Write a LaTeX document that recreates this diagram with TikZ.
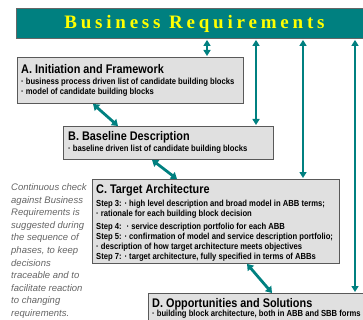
\documentclass[tikz,border=0pt]{standalone}
\usepackage{fontspec}
\setmainfont{Liberation Sans}
\newfontfamily\bannerfont[LetterSpace=20]{Liberation Serif}
\newfontfamily\boxfont[FakeStretch=0.87]{Liberation Sans}
\usetikzlibrary{arrows.meta}
\definecolor{brteal}{RGB}{0,128,128}
\definecolor{bryellow}{RGB}{255,255,0}
\definecolor{boxgray}{RGB}{224,224,224}
\definecolor{notegray}{RGB}{100,100,100}

\tikzset{
  phase/.style={draw=black!65, line width=0.9pt, fill=boxgray, anchor=north west, inner sep=0pt},
  ptitle/.style={anchor=base west, inner sep=0pt, font=\boxfont\bfseries\fontsize{12.5}{14}\selectfont},
  pline/.style={anchor=base west, inner sep=0pt, font=\boxfont\bfseries\fontsize{8.8}{10}\selectfont},
  check/.style={brteal, line width=1.6pt, {Triangle[width=7pt,length=6pt]}-{Triangle[width=7pt,length=6pt]}, shorten <=1pt, shorten >=1pt},
  flow/.style={brteal, line width=2.8pt, {Triangle[width=8pt,length=6pt]}-{Triangle[width=8pt,length=6pt]}},
}

\begin{document}
\begin{tikzpicture}[x=1pt,y=-1pt]
  \useasboundingbox (0,0) rectangle (363,320);

  % banner
  \node[draw=black!60, line width=0.9pt, fill=brteal, anchor=north west, minimum width=356pt, minimum height=30pt, inner sep=0pt,
        text=bryellow, font=\bannerfont\bfseries\fontsize{19}{22}\selectfont] (banner) at (16,8) {Business Requirements};

  % phases
  \node[phase, minimum width=226pt, minimum height=46pt] (A) at (17,57) {};
  \node[ptitle] (Atitle) at (21,74) {A. Initiation and Framework};
  \node[pline] (A1) at (21,85) {· business process driven list of candidate building blocks};
  \node[pline] (A2) at (21,95) {· model of candidate building blocks};

  \node[phase, minimum width=210pt, minimum height=33pt] (B) at (63,126) {};
  \node[ptitle] (Btitle) at (68,141) {B. Baseline Description};
  \node[pline] (B1) at (68,152) {· baseline driven list of candidate building blocks};

  \node[phase, minimum width=247pt, minimum height=84pt] (C) at (92,179) {};
  \node[ptitle] (Ctitle) at (96,193) {C. Target Architecture};
  \node[pline] (C1) at (96,206) {Step 3: · high level description and broad model in ABB terms;};
  \node[pline] (C2) at (96,216) {· rationale for each building block decision};
  \node[pline] (C3) at (96,229) {Step 4: \ · service description portfolio for each ABB};
  \node[pline] (C4) at (96,239) {Step 5: · confirmation of model and service description portfolio;};
  \node[pline] (C5) at (96,249) {· description of how target architecture meets objectives};
  \node[pline] (C6) at (96,259) {Step 7: · target architecture, fully specified in terms of ABBs};

  \node[phase, minimum width=230pt, minimum height=40pt] (D) at (148,293) {};
  \node[ptitle] (Dtitle) at (152,307) {D. Opportunities and Solutions};
  \node[pline] (D1) at (152,316) {· building block architecture, both in ABB and SBB forms};

  % side note
  \node[anchor=north west, inner sep=0pt, align=left, text=notegray, font=\itshape\fontsize{9.5}{12.6}\selectfont] (note) at (11,183.5)
    {Continuous check\\against Business\\Requirements is\\suggested during\\the sequence of\\phases, to keep\\decisions\\traceable and to\\facilitate reaction\\to changing\\requirements.};

  % checks against business requirements
  \coordinate (xa) at (207,0);
  \coordinate (xb) at (256,0);
  \coordinate (xc) at (303,0);
  \coordinate (xd) at (355,0);
  \draw[check] (banner.south -| xa) -- (A.north -| xa);
  \draw[check] (banner.south -| xb) -- (B.north -| xb);
  \draw[check] (banner.south -| xc) -- (C.north -| xc);
  \draw[check] (banner.south -| xd) -- (D.north -| xd);

  % phase sequence
  \draw[flow] ([xshift=76pt]A.south west) -- ([xshift=55pt]B.north west);
  \draw[flow] ([xshift=89pt]B.south west) -- ([xshift=85pt]C.north west);
  \draw[flow] ([xshift=155pt]C.south west) -- ([xshift=124pt]D.north west);
\end{tikzpicture}
\end{document}
